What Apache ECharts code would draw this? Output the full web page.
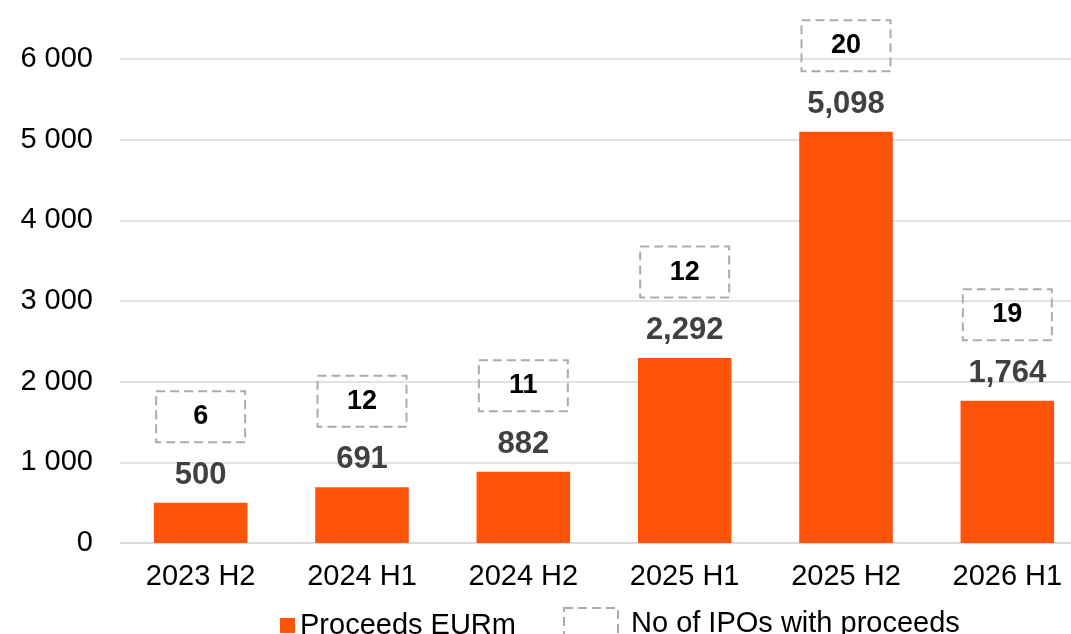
<!DOCTYPE html>
<html>
<head>
<meta charset="utf-8">
<script src="https://cdn.jsdelivr.net/npm/echarts@6/dist/echarts.min.js"></script>
<style>
  html, body { margin: 0; padding: 0; background: #fff; overflow: hidden; }
  /* wider than the window: the last category runs past the right edge, as in the picture */
  #chart { width: 1088px; height: 634px; }
</style>
</head>
<body>
<div id="chart"></div>
<script>
// data
const periods = ["2023 H2", "2024 H1", "2024 H2", "2025 H1", "2025 H2", "2026 H1"];
const proceeds = [500, 691, 882, 2292, 5098, 1764];
const ipoCounts = [6, 12, 11, 12, 20, 19];
const yTicks = [0, 1000, 2000, 3000, 4000, 5000, 6000];

const FONT = "Arial, 'Liberation Sans', sans-serif";
const ORANGE = "#fe5409";
const DASH = "#a7abb6";

const myChart = echarts.init(document.getElementById("chart"));
const option = {
  animation: false,
  textStyle: { fontFamily: FONT },
  grid: { left: 120, right: 0, top: 59, bottom: 91 },
  legend: [
    {
      data: [{ name: "Proceeds EURm", icon: "rect" }],
      left: 280,
      top: 611,
      padding: 0,
      itemWidth: 15,
      itemHeight: 15,
      textStyle: { fontSize: 29, color: "#000", fontFamily: FONT },
    },
    {
      data: [{ name: "No of IPOs with proceeds", icon: "rect" }],
      left: 563,
      top: 607,
      padding: 0,
      itemWidth: 54,
      itemHeight: 32,
      itemStyle: {
        color: "transparent",
        borderColor: DASH,
        borderWidth: 2,
        borderType: [9, 5],
        opacity: 1,
      },
      textStyle: { fontSize: 29, color: "#000", fontFamily: FONT, padding: [0, 0, 0, 8] },
    },
  ],
  xAxis: {
    type: "category",
    data: periods,
    axisTick: { show: false },
    axisLine: { lineStyle: { color: "#d9d9d9", width: 1.5 } },
    axisLabel: { fontSize: 29, color: "#000", margin: 19, fontFamily: FONT },
  },
  yAxis: {
    type: "value",
    min: yTicks[0],
    max: yTicks[yTicks.length - 1],
    interval: 1000,
    axisLine: { show: false },
    axisTick: { show: false },
    splitLine: { lineStyle: { color: "#d9d9d9", width: 1.5 } },
    axisLabel: {
      fontSize: 29,
      color: "#000",
      margin: 27,
      fontFamily: FONT,
      formatter: (v) => String(v).replace(/\B(?=(\d{3})+(?!\d))/g, " "),
    },
  },
  series: [
    {
      name: "Proceeds EURm",
      type: "bar",
      data: proceeds,
      barWidth: "58%",
      itemStyle: { color: ORANGE },
      label: {
        show: true,
        position: "top",
        distance: 12,
        fontSize: 31,
        fontWeight: "bold",
        color: "#404040",
        fontFamily: FONT,
        formatter: (p) => p.value.toLocaleString("en-US"),
      },
    },
    {
      name: "No of IPOs with proceeds",
      type: "scatter",
      data: proceeds.map((v, i) => [i, v]),
      symbolSize: 0,
      itemStyle: { color: "transparent", borderColor: DASH, borderType: "dashed", opacity: 1 },
      label: {
        show: true,
        position: "inside",
        offset: [0, -86],
        width: 89,
        height: 51,
        lineHeight: 51,
        align: "center",
        verticalAlign: "middle",
        fontSize: 27,
        fontWeight: "bold",
        color: "#000",
        opacity: 1,
        fontFamily: FONT,
        borderColor: DASH,
        borderWidth: 2,
        borderType: [9, 5],
        formatter: (p) => String(ipoCounts[p.dataIndex]),
      },
    },
  ],
};
myChart.setOption(option);
</script>
</body>
</html>
